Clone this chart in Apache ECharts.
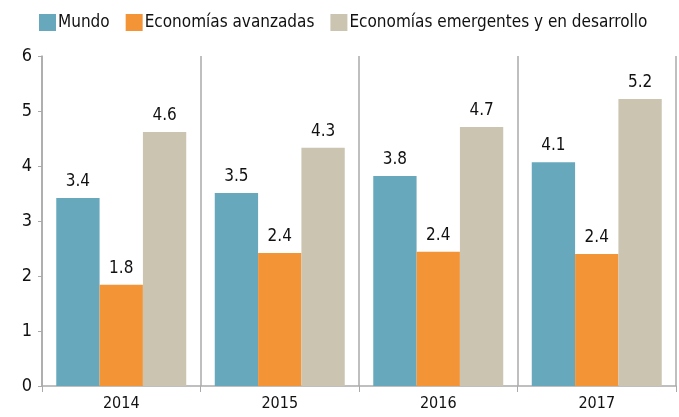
<!DOCTYPE html>
<html>
<head>
<meta charset="utf-8">
<script src="https://cdn.jsdelivr.net/npm/echarts@6/dist/echarts.min.js"></script>
<style>
  html, body { margin: 0; padding: 0; background: #fff; }
  #chart { width: 679px; height: 417px; }
</style>
</head>
<body>
<div id="chart"></div>
<script>
// datos
const years = ['2014', '2015', '2016', '2017']
const mundo = [3.42, 3.51, 3.82, 4.07]
const avanzadas = [1.84, 2.42, 2.44, 2.4]
const emergentes = [4.62, 4.33, 4.71, 5.22]
const yTicks = [0, 1, 2, 3, 4, 5, 6]

const FONT = '"DejaVu Sans Condensed", "Liberation Sans Narrow", sans-serif'

function serie (name, data, color) {
  return {
    name: name,
    type: 'bar',
    data: data,
    barGap: '0%',
    barCategoryGap: '18%',
    itemStyle: { color: color },
    label: {
      show: true,
      position: 'top',
      distance: 8,
      color: '#111',
      fontFamily: FONT,
      fontSize: 17,
      formatter: (p) => p.value.toFixed(1)
    }
  }
}

let chart = echarts.init(document.getElementById('chart'))
chart.setOption({
  animation: false,
  legend: {
    left: 34,
    top: 9,
    width: 660,
    itemWidth: 17,
    itemHeight: 17,
    itemGap: 16,
    icon: 'rect',
    textStyle: { fontFamily: FONT, fontSize: 17, color: '#111', padding: [0, 0, 0, -3] },
    data: ['Mundo', 'Economías avanzadas', 'Economías emergentes y en desarrollo']
  },
  grid: { left: 42, right: 3, top: 56, bottom: 31 },
  xAxis: {
    type: 'category',
    data: years,
    axisLine: { lineStyle: { color: '#aaa', width: 1.5 } },
    axisTick: { show: true, length: 6, lineStyle: { color: '#aaa' } },
    splitLine: { show: true, lineStyle: { color: '#aaa', width: 1.5 } },
    axisLabel: { fontFamily: FONT, fontSize: 16, color: '#111', margin: 10 }
  },
  yAxis: {
    type: 'value',
    min: yTicks[0],
    max: yTicks[yTicks.length - 1],
    interval: 1,
    axisLine: { show: true, lineStyle: { color: '#aaa', width: 1.5 } },
    axisTick: { show: true, length: 4, lineStyle: { color: '#aaa' } },
    splitLine: { show: false },
    axisLabel: { fontFamily: FONT, fontSize: 18, color: '#111', margin: 10 }
  },
  series: [
    serie('Mundo', mundo, '#67a8bc'),
    serie('Economías avanzadas', avanzadas, '#f39536'),
    serie('Economías emergentes y en desarrollo', emergentes, '#cbc4b1')
  ]
})
</script>
</body>
</html>
